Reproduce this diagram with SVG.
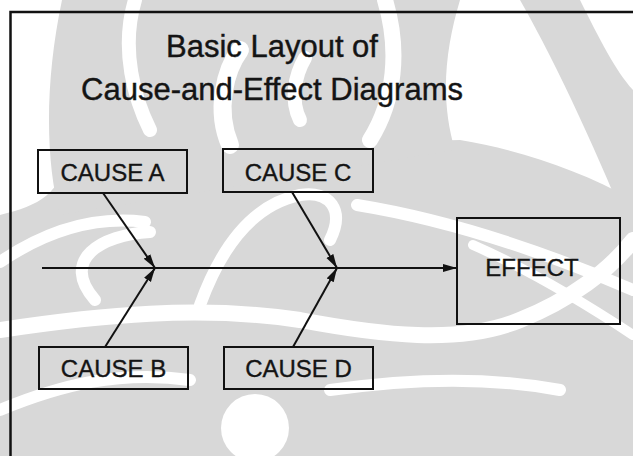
<svg xmlns="http://www.w3.org/2000/svg" width="633" height="456" viewBox="0 0 633 456">
  <defs>
    <style>
      .wm { fill: #d8d8d8; }
      .wl { fill: none; stroke: #ffffff; stroke-linecap: round; }
      .box { fill: none; stroke: #111111; stroke-width: 2; }
      .lbl { font-family: "Liberation Sans", Arial, sans-serif; font-size: 24px; fill: #141414; stroke: #141414; stroke-width: 0.35; text-anchor: middle; }
      .ttl { font-family: "Liberation Sans", Arial, sans-serif; font-size: 31px; fill: #141414; stroke: #141414; stroke-width: 0.4; text-anchor: middle; }
      .edge { fill: none; stroke: #111111; stroke-width: 2; }
    </style>
    <marker id="arrow" markerUnits="userSpaceOnUse" markerWidth="16" markerHeight="10" refX="14" refY="4" orient="auto">
      <path d="M0,0 L14,4 L0,8 Z" fill="#111111"/>
    </marker>
  </defs>

  <!-- page background with faint watermark -->
  <rect x="0" y="0" width="633" height="456" fill="#ffffff"/>
  <g id="watermark">
    <!-- lower mass -->
    <path class="wm" d="M0,215 C40,205 60,195 70,150 L460,140 C520,150 580,170 633,200 L633,456 L0,456 Z"/>
    <!-- upper flames -->
    <path class="wm" d="M62,0 L460,0 C445,50 440,100 455,150 L60,215 C45,160 45,80 62,0 Z"/>
    <path class="wm" d="M520,0 L580,0 C600,40 615,70 633,90 L633,240 C600,160 560,70 520,0 Z"/>
    <!-- light swirls -->
    <path class="wl" stroke-width="14" d="M135,0 C120,50 135,100 150,130"/>
    <path class="wl" stroke-width="18" d="M230,145 C215,110 225,70 240,50"/>
    <path class="wl" stroke-width="14" d="M300,120 C290,100 295,75 305,58"/>
    <path class="wl" stroke-width="16" d="M385,0 C400,50 395,100 370,140"/>
    <path class="wl" stroke-width="12" d="M0,262 C40,235 90,215 145,222"/>
    <path class="wl" stroke-width="12" d="M150,232 C100,235 60,260 95,300"/>
    <path class="wl" stroke-width="16" d="M0,330 C100,315 200,305 300,320 C380,335 460,345 520,320 C570,300 610,270 633,240"/>
    <path class="wl" stroke-width="12" d="M200,305 C220,250 250,205 300,195 C330,190 345,210 330,240"/>
    <path class="wl" stroke-width="12" d="M357,205 C450,220 540,250 633,290"/>
    <path class="wl" stroke-width="10" d="M473,245 C530,270 580,300 633,335"/>
    <path class="wl" stroke-width="12" d="M0,410 C60,385 120,370 190,380"/>
    <path class="wl" stroke-width="12" d="M330,390 C400,380 480,375 560,390"/>
    <circle cx="255" cy="428" r="34" fill="#ffffff"/>
  </g>

  <!-- outer frame -->
  <g id="frame">
    <path d="M10.5,456 L10.5,12 L633,12" fill="none" stroke="#111111" stroke-width="2.5"/>
  </g>

  <!-- title -->
  <g id="title">
    <text class="ttl" x="272" y="57">Basic Layout of</text>
    <text class="ttl" x="272" y="100">Cause-and-Effect Diagrams</text>
  </g>

  <!-- nodes -->
  <g id="cause-a">
    <rect class="box" x="38" y="150" width="149" height="43"/>
    <text class="lbl" x="112.5" y="181">CAUSE A</text>
  </g>
  <g id="cause-c">
    <rect class="box" x="223" y="149" width="150" height="43"/>
    <text class="lbl" x="298" y="181">CAUSE C</text>
  </g>
  <g id="cause-b">
    <rect class="box" x="39" y="347" width="149" height="42"/>
    <text class="lbl" x="113.5" y="377">CAUSE B</text>
  </g>
  <g id="cause-d">
    <rect class="box" x="224" y="347" width="149" height="42"/>
    <text class="lbl" x="298.5" y="377">CAUSE D</text>
  </g>
  <g id="effect">
    <rect class="box" x="457" y="218" width="163" height="106"/>
    <text class="lbl" x="532" y="276">EFFECT</text>
  </g>

  <!-- connectors -->
  <g id="connectors">
    <line class="edge" x1="42" y1="268" x2="457" y2="268" marker-end="url(#arrow)"/>
    <line class="edge" x1="103" y1="193" x2="155" y2="268" marker-end="url(#arrow)"/>
    <line class="edge" x1="105" y1="347" x2="155" y2="268" marker-end="url(#arrow)"/>
    <line class="edge" x1="292" y1="192" x2="337" y2="268" marker-end="url(#arrow)"/>
    <line class="edge" x1="293" y1="347" x2="337" y2="268" marker-end="url(#arrow)"/>
  </g>
</svg>
